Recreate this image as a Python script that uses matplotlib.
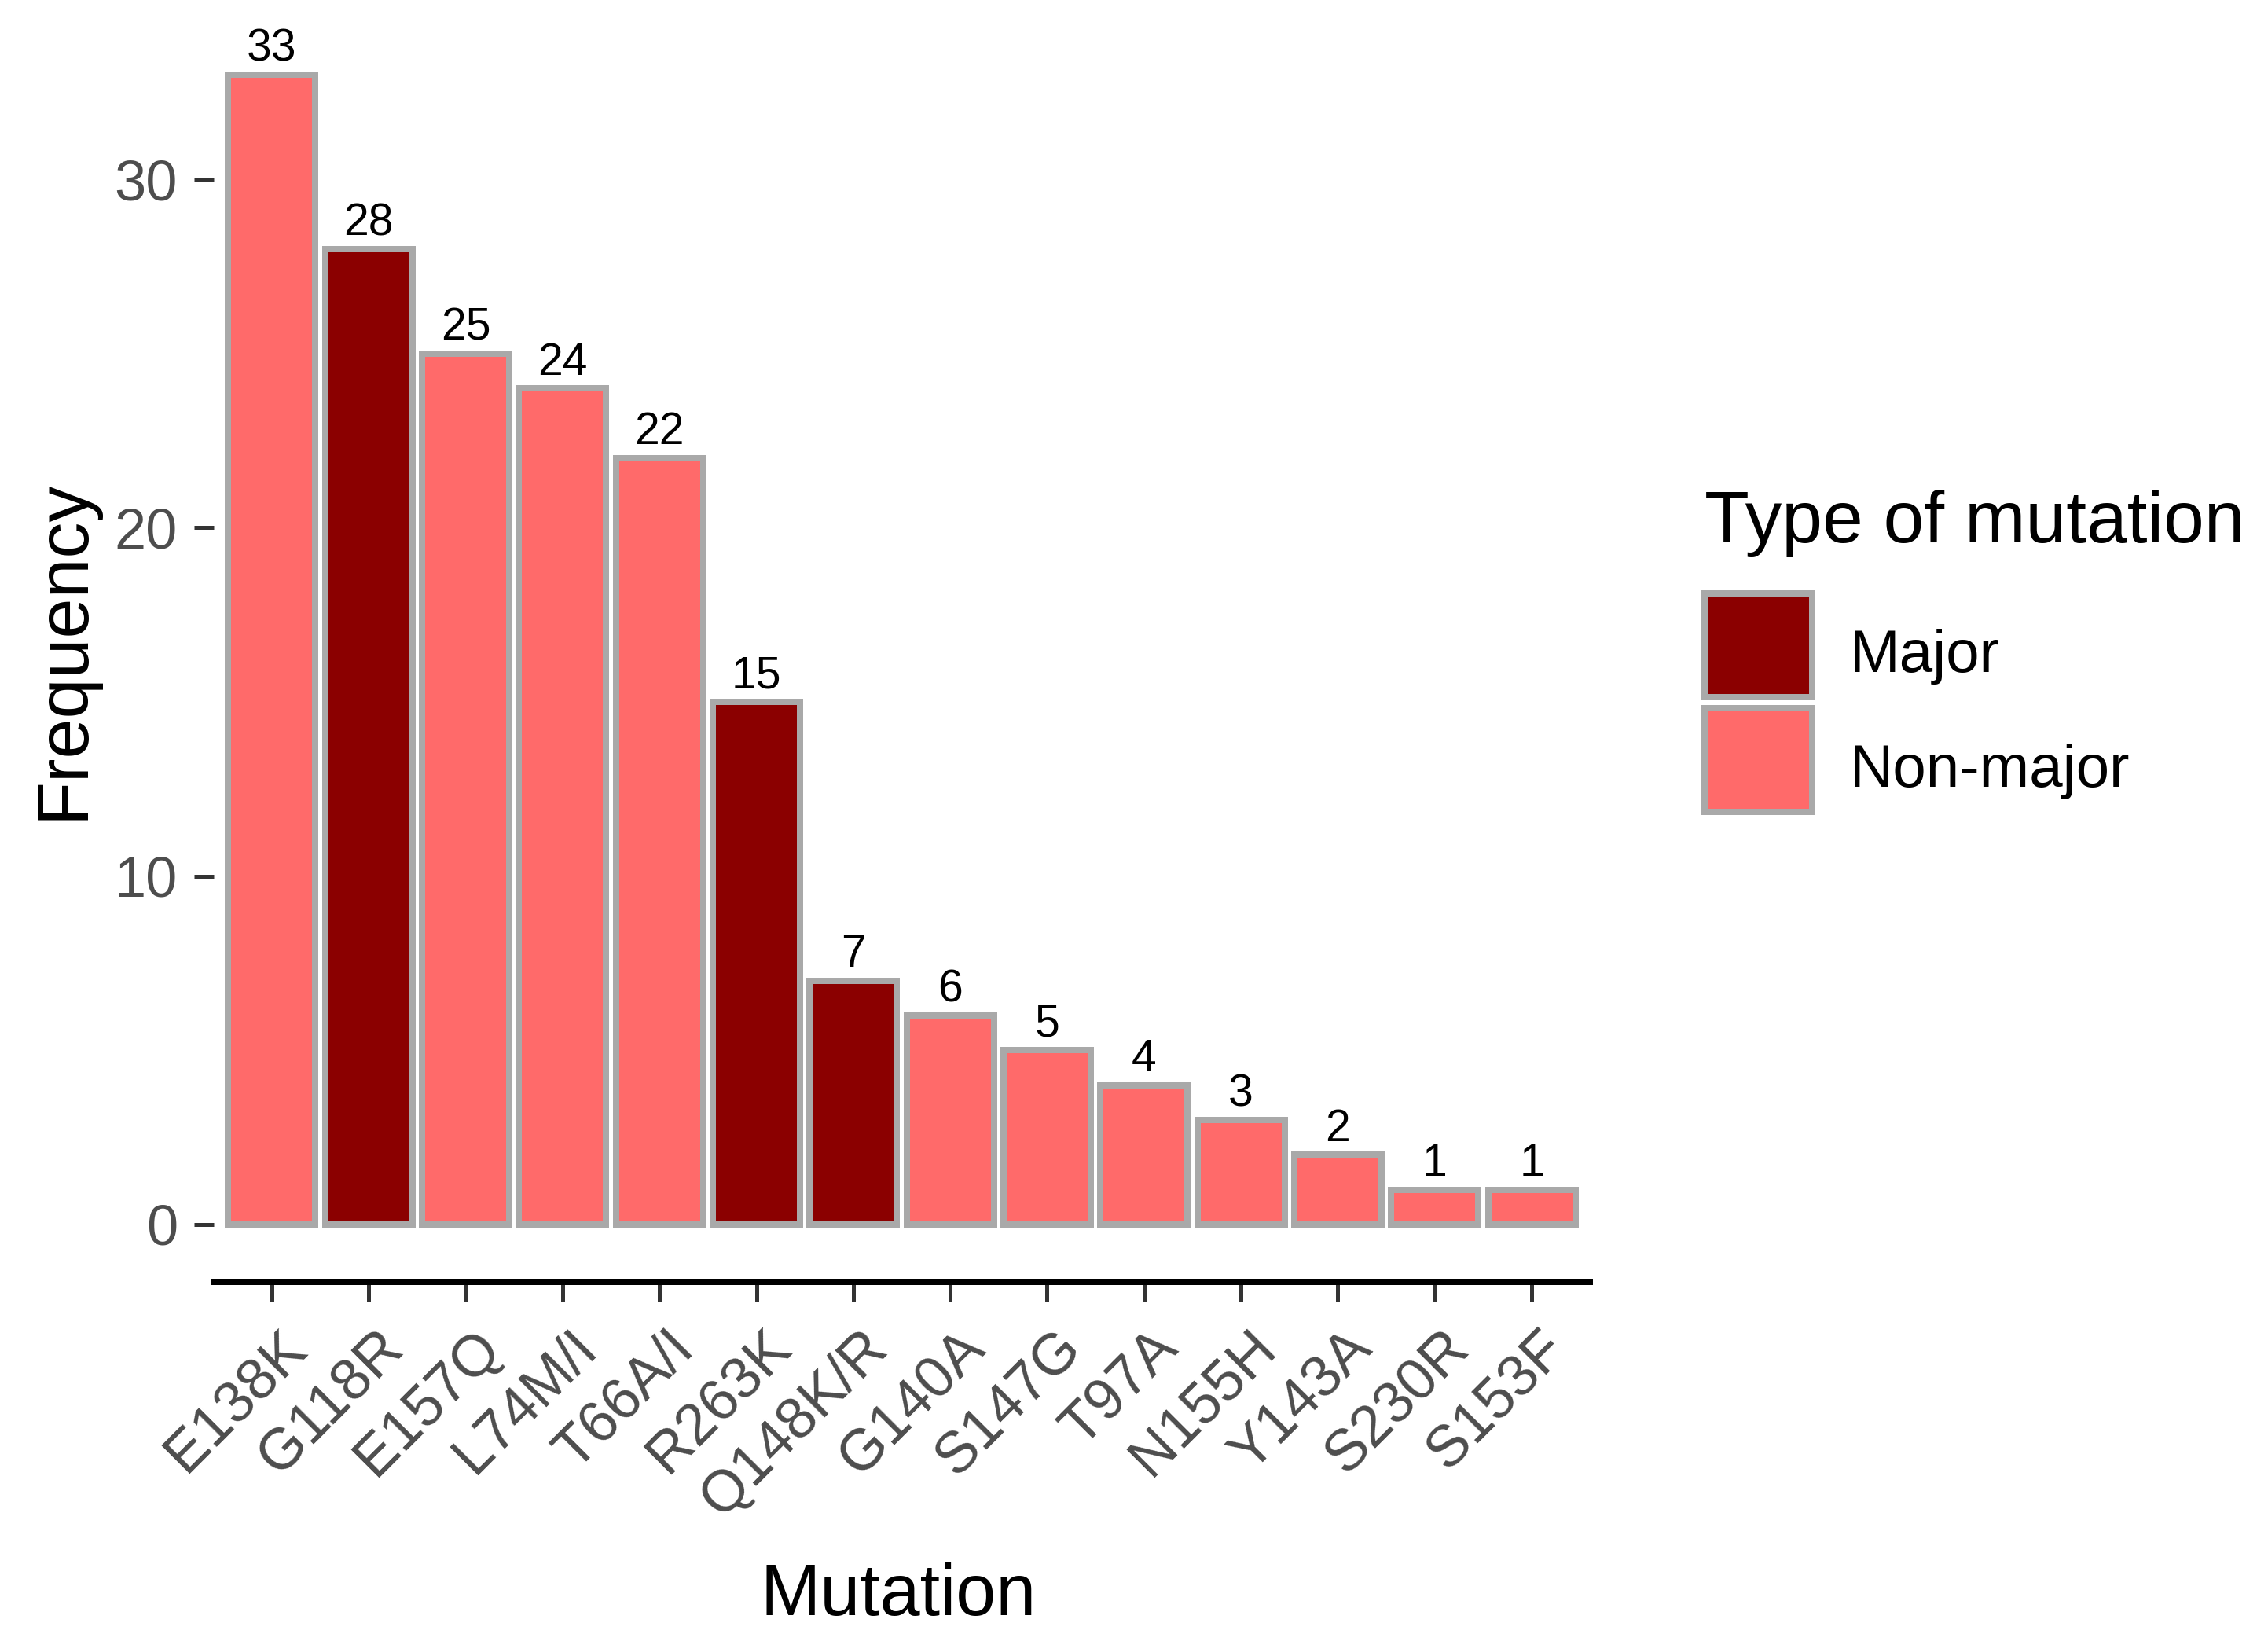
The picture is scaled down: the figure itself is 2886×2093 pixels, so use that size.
import matplotlib
matplotlib.use("Agg")
import matplotlib.pyplot as plt
from matplotlib.patches import Patch, Rectangle
from matplotlib.legend_handler import HandlerPatch
import matplotlib.transforms as mtransforms

mutations = ["E138K", "G118R", "E157Q", "L74M/I", "T66A/I", "R263K", "Q148K/R",
             "G140A", "S147G", "T97A", "N155H", "Y143A", "S230R", "S153F"]
frequency = [33, 28, 25, 24, 22, 15, 7, 6, 5, 4, 3, 2, 1, 1]
mut_type = ["Non-major", "Major", "Non-major", "Non-major", "Non-major", "Major", "Major",
            "Non-major", "Non-major", "Non-major", "Non-major", "Non-major", "Non-major", "Non-major"]
type_levels = ["Major", "Non-major"]
type_colors = {"Major": "#8B0000", "Non-major": "#FF6A6A"}
y_ticks = [0, 10, 20, 30]

plt.rcParams['font.family'] = ['Liberation Sans', 'DejaVu Sans']

W, H = 2886, 2093
DPI = 100
PT = 72 / DPI  # points per pixel
fig = plt.figure(figsize=(W / DPI, H / DPI), dpi=DPI)
L, R, T, B = 272, 2023, 22, 1631
ax = fig.add_axes([L / W, 1 - B / H, (R - L) / W, (B - T) / H])

edge_lw = 8 * PT
ax.bar(mutations, frequency, width=0.9,
       color=[type_colors[t] for t in mut_type],
       edgecolor="#A9A9A9", linewidth=edge_lw)

for xi, v in zip(range(len(mutations)), frequency):
    ax.annotate(str(v), (xi, v), xytext=(0, 12.5), textcoords="offset points",
                ha="center", va="baseline", fontsize=41, color="black")

n = len(mutations)
ax.set_xlim(-0.6, n - 1 + 0.6)
ymax = max(frequency)
ax.set_ylim(-0.05 * ymax, ymax * 1.05)
ax.set_yticks(y_ticks)

for s in ["top", "right", "left"]:
    ax.spines[s].set_visible(False)
ax.spines["bottom"].set_linewidth(edge_lw)
ax.spines["bottom"].set_color("black")

ax.tick_params(axis="both", direction="out", length=18, width=3.6, color="#333333",
               labelcolor="#4D4D4D", labelsize=52)
ax.tick_params(axis="y", pad=15)
ax.tick_params(axis="x", pad=17, labelsize=53)

ax.set_xticks(range(n))
ax.set_xticklabels(mutations, rotation=45, ha="right", va="top", rotation_mode="anchor")
offset = mtransforms.ScaledTranslation(8 * PT / 72, 0, fig.dpi_scale_trans)
for lab in ax.get_xticklabels():
    lab.set_transform(lab.get_transform() + offset)

fig.text(105 / W, 1 - 826 / H, "Frequency", rotation=90, rotation_mode="anchor",
         ha="center", va="baseline", fontsize=66, color="black")
fig.text(1143 / W, 1 - 2055 / H, "Mutation", ha="center", va="baseline",
         fontsize=66, color="black")

# legend
fs = 55
fs_px = fs / PT
key_w_px, key_h_px = 137, 132
hh = (key_h_px / fs_px - 0.245) / 0.65


def key_rect(legend, orig_handle, xdescent, ydescent, width, height, fontsize):
    return Rectangle((-xdescent, -32 * PT), width, key_h_px * PT)


handles = [Patch(facecolor=type_colors[t], edgecolor="#A9A9A9", linewidth=edge_lw, label=t)
           for t in type_levels]
leg = fig.legend(handles=handles, title="Type of mutation", loc="upper left",
                 bbox_to_anchor=(2169 / W, 1 - 623 / H), bbox_transform=fig.transFigure,
                 frameon=False, fontsize=fs, title_fontsize=67, alignment="left",
                 handlelength=key_w_px / fs_px, handleheight=hh,
                 labelspacing=14 / fs_px, handletextpad=48 / fs_px, borderpad=0,
                 borderaxespad=0,
                 handler_map={Patch: HandlerPatch(patch_func=key_rect)})
leg._legend_box.sep = 56 * PT

fig.savefig("out.png", dpi=DPI, facecolor="white")
